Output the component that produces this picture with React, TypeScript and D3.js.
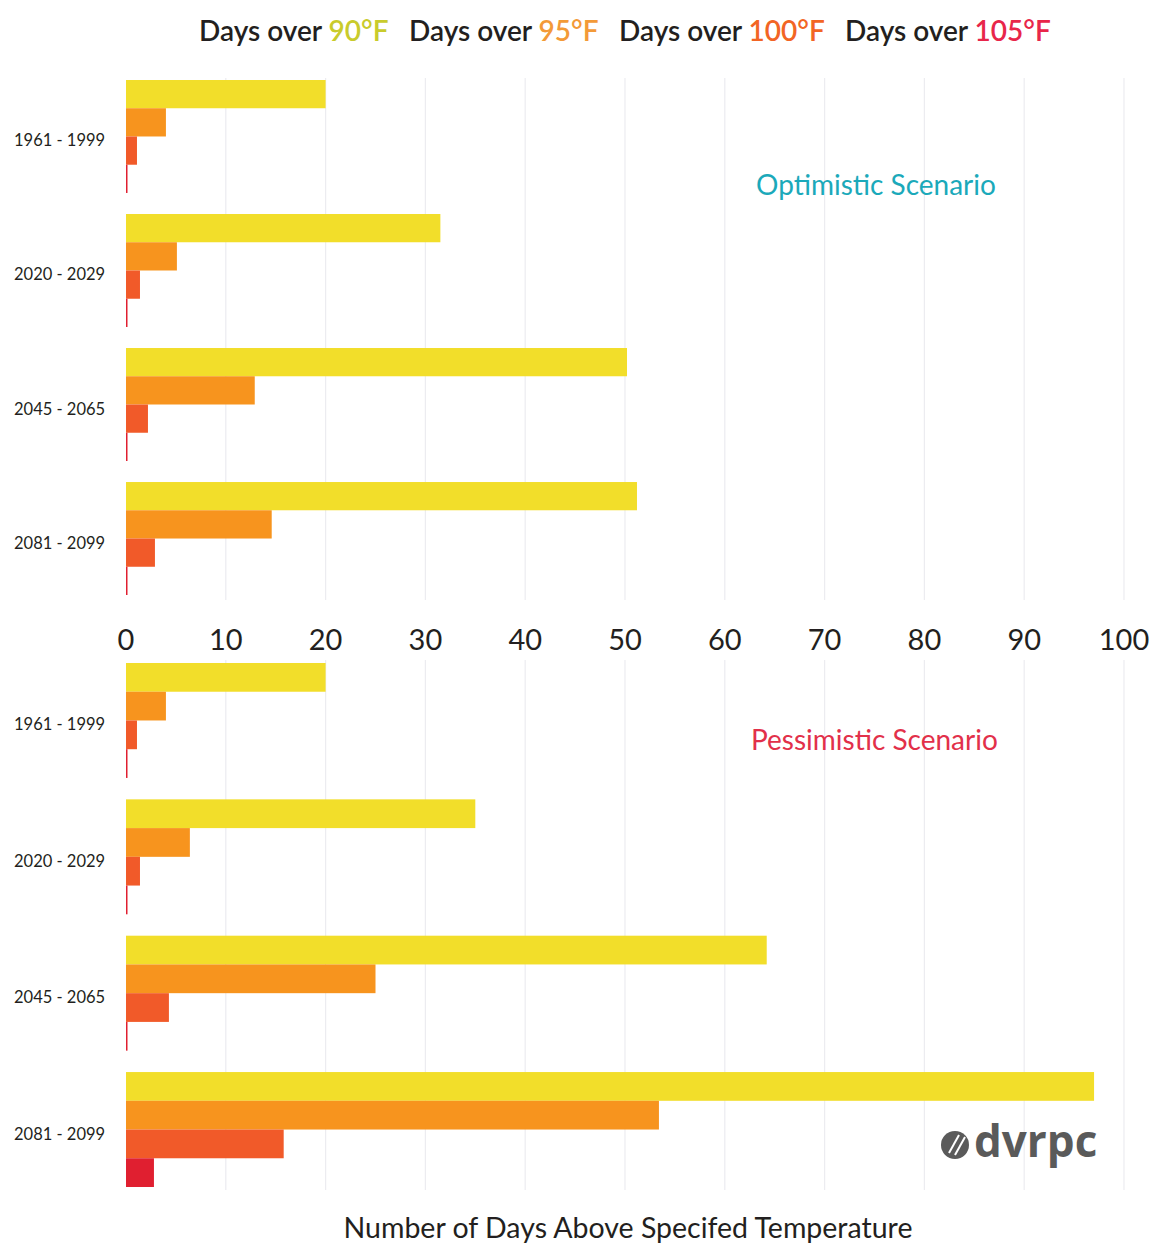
import React from "react";
import * as d3 from "d3";

const periods = ["1961 - 1999", "2020 - 2029", "2045 - 2065", "2081 - 2099"];
const seriesKeys = ["d90", "d95", "d100", "d105"];
const seriesLabels = ["90", "95", "100", "105"];
const optimistic90 = [20, 31.5, 50.2, 51.2];
const optimistic95 = [4, 5.1, 12.9, 14.6];
const optimistic100 = [1.1, 1.4, 2.2, 2.9];
const optimistic105 = [0.15, 0.15, 0.15, 0.15];
const pessimistic90 = [20, 35, 64.2, 97];
const pessimistic95 = [4, 6.4, 25, 53.4];
const pessimistic100 = [1.1, 1.4, 4.3, 15.8];
const pessimistic105 = [0.15, 0.15, 0.15, 2.8];
const xTicks = [0, 10, 20, 30, 40, 50, 60, 70, 80, 90, 100];

const barColors = ["#F2DE2A", "#F7941E", "#F15A29", "#E01F30"];
const legendColors = ["#C9CB2C", "#F39A38", "#F26524", "#E8264A"];
const FONT = "Lato, 'Open Sans', sans-serif";

const x = d3.scaleLinear().domain([0, 100]).range([126, 1124]);

function Panel({ values, range, title, titleColor, titleX, titleY, gridRange }) {
  const y = d3.scaleBand().domain(periods).range(range).paddingInner(0.157).paddingOuter(0);
  const inner = d3.scaleBand().domain(seriesKeys).range([0, y.bandwidth()]).padding(0);
  return (
    <g>
      {xTicks.filter((t) => t > 0).map((t) => (
        <line key={t} x1={x(t)} x2={x(t)} y1={gridRange[0]} y2={gridRange[1]} stroke="#ececf0" strokeWidth={1.2} />
      ))}
      {periods.map((p, i) => (
        <g key={p} transform={`translate(0,${y(p)})`}>
          {seriesKeys.map((k, j) => (
            <rect key={k} x={x(0)} y={inner(k)} width={Math.max(1, x(values[j][i]) - x(0))} height={inner.bandwidth()} fill={barColors[j]} />
          ))}
          <text x={14} y={y.bandwidth() / 2 + 10} fontFamily={FONT} fontSize={16.5} fill="#231F20">{p}</text>
        </g>
      ))}
      <text x={titleX} y={titleY} fontFamily={FONT} fontSize={28} fill={titleColor}>{title}</text>
    </g>
  );
}

export default function App() {
  const topValues = [optimistic90, optimistic95, optimistic100, optimistic105];
  const botValues = [pessimistic90, pessimistic95, pessimistic100, pessimistic105];
  const legendX = [199, 409, 619, 845];
  return (
    <svg width={1155} height={1246} style={{ position: "absolute", left: 0, top: 0, background: "#fff" }}>
      <rect width={1155} height={1246} fill="#fff" />
      {seriesLabels.map((s, i) => (
        <text key={s} x={legendX[i]} y={41} fontFamily={FONT} fontSize={28} fontWeight={600} fill="#231F20">
          Days over <tspan fill={legendColors[i]}>{s}°F</tspan>
        </text>
      ))}
      <Panel values={topValues} range={[80, 595]} title="Optimistic Scenario" titleColor="#1BA9BA" titleX={756} titleY={195} gridRange={[78, 600]} />
      <Panel values={botValues} range={[663, 1187]} title="Pessimistic Scenario" titleColor="#E2304A" titleX={751} titleY={750} gridRange={[660, 1190]} />
      {xTicks.map((t) => (
        <text key={t} x={x(t)} y={650} textAnchor="middle" fontFamily={FONT} fontSize={29} fill="#231F20">{t}</text>
      ))}
      <text x={628} y={1238} textAnchor="middle" fontFamily={FONT} fontSize={28.5} fill="#231F20">Number of Days Above Specifed Temperature</text>
      <g transform="translate(955,1145)">
        <circle r={14} fill="#5a5a5a" />
        <line x1={-6} y1={8} x2={4} y2={-10} stroke="#fff" strokeWidth={2} />
        <line x1={0} y1={10} x2={10} y2={-8} stroke="#fff" strokeWidth={2} />
      </g>
      <text x={974} y={1157} fontFamily="'Open Sans', sans-serif" fontSize={44} fontWeight={700} fill="#5a5a5a">dvrpc</text>
    </svg>
  );
}
